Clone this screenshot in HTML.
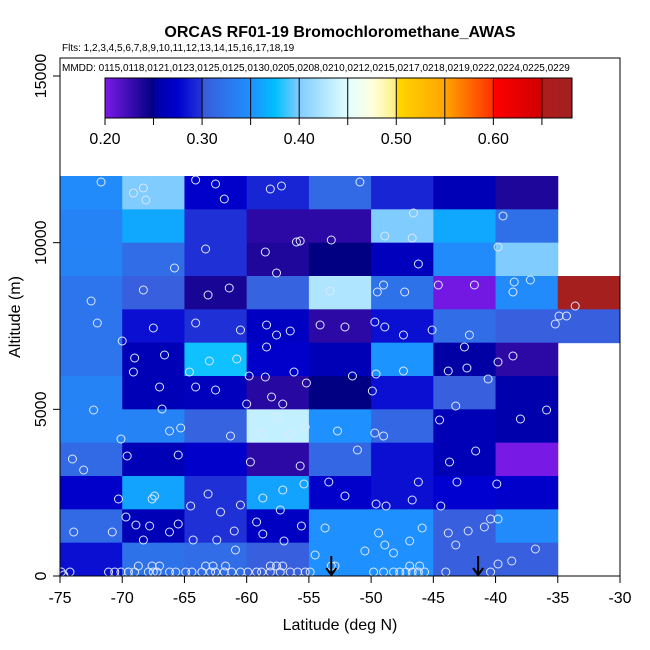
<!DOCTYPE html>
<html><head><meta charset="utf-8"><style>
html,body{margin:0;padding:0;background:#fff;}
svg{display:block;font-family:"Liberation Sans",sans-serif;}
</style></head><body>
<svg id="chart" width="650" height="650" viewBox="0 0 650 650" xmlns="http://www.w3.org/2000/svg">
<text x="340" y="37" font-size="16" font-weight="bold" text-anchor="middle">ORCAS RF01-19 Bromochloromethane_AWAS</text>
<text x="62" y="51" font-size="10">Flts: 1,2,3,4,5,6,7,8,9,10,11,12,13,14,15,16,17,18,19</text>
<g id="cells"></g>
<g id="pts"></g>
<g id="arrows"></g>
<g id="cbar"></g>
<text x="62" y="71" font-size="10">MMDD: 0115,0118,0121,0123,0125,0125,0130,0205,0208,0210,0212,0215,0217,0218,0219,0222,0224,0225,0229</text>
<rect x="60" y="58" width="560" height="518" fill="none" stroke="#000" stroke-width="1"/>
<g id="axes"></g>
<text x="340" y="630" font-size="16" text-anchor="middle">Latitude (deg N)</text>
<text transform="translate(20,317) rotate(-90)" font-size="16" text-anchor="middle">Altitude (m)</text>
</svg>
<script>
const latBins = [-75,-70,-65,-60,-55,-50,-45,-40,-35];
const altBins = [11000,10000,9000,8000,7000,6000,5000,4000,3000,2000,1000,0];
const cellValues = [
 [0.345,0.40,0.272,0.292,0.315,0.292,0.262,0.238,null],
 [0.338,0.362,0.297,0.232,0.232,0.40,0.362,0.320,null],
 [0.338,0.318,0.297,0.237,0.249,0.265,0.345,0.40,null],
 [0.325,0.305,0.24,0.308,0.425,0.322,0.203,0.345,0.675],
 [0.325,0.282,0.297,0.268,0.232,0.282,0.318,0.305,0.305],
 [0.325,0.262,0.378,0.272,0.262,0.352,0.252,0.232,null],
 [0.338,0.262,0.265,0.234,0.249,0.282,0.305,0.256,null],
 [0.338,0.338,0.308,0.435,0.35,0.312,0.262,0.256,null],
 [0.315,0.262,0.272,0.232,0.312,0.282,0.262,0.201,null],
 [0.272,0.36,0.297,0.36,0.272,0.282,0.275,0.272,null],
 [0.315,0.262,0.297,0.268,0.35,0.35,0.305,0.345,null],
 [0.282,0.322,0.318,0.305,0.35,0.35,0.305,0.305,null]
];
const pointLat = [-71.7,-68.3,-69.1,-68.1,-64.1,-62.5,-61.8,-58.1,-57.2,-50.9,-46.6,-48.9,-46.7,-58.5,-56.0,-55.7,-53.2,-63.3,-61.4,-65.8,-39.8,-37.2,-38.6,-39.4,-46.2,-44.6,-57.6,-72.5,-68.3,-63.1,-53.3,-49.5,-49.0,-47.3,-41.7,-38.5,-33.6,-34.9,-34.3,-35.2,-72.0,-67.5,-64.1,-60.5,-63.0,-66.6,-69.0,-70.0,-58.4,-57.6,-56.5,-54.1,-52.1,-49.7,-48.9,-47.4,-45.1,-42.1,-42.5,-42.3,-43.8,-38.6,-39.8,-69.1,-64.6,-60.8,-59.8,-58.4,-58.5,-56.2,-51.5,-49.6,-47.4,-49.9,-62.5,-60.0,-58.0,-57.1,-55.2,-72.3,-74.0,-67.0,-66.8,-64.1,-66.2,-65.3,-57.5,-55.3,-56.5,-52.7,-49.7,-49.0,-44.5,-43.2,-40.6,-35.9,-38.0,-70.1,-69.6,-65.5,-61.3,-59.7,-58.8,-55.7,-51.1,-43.7,-41.6,-39.9,-73.1,-74.7,-70.3,-67.6,-67.4,-63.1,-64.5,-62.1,-60.5,-58.7,-57.1,-57.3,-55.4,-53.4,-52.1,-49.6,-48.8,-46.7,-46.2,-44.4,-43.1,-42.2,-40.4,-39.8,-73.9,-70.8,-68.9,-68.3,-67.8,-69.7,-66.2,-65.5,-64.3,-62.4,-61.0,-60.9,-59.2,-58.7,-57.0,-55.6,-53.7,-54.5,-50.5,-49.4,-48.9,-48.2,-46.9,-45.9,-43.8,-43.2,-40.9,-39.8,-38.7,-36.8,
-74.9,-74.2,-71.1,-70.6,-70.1,-69.5,-69.0,-67.9,-67.5,-67.2,-66.2,-65.7,-64.9,-64.4,-63.6,-62.9,-62.5,-61.8,-61.2,-60.5,-59.9,-59.2,-58.8,-58.1,-57.3,-56.5,-55.9,-55.3,-54.9,-49.8,-49.0,-48.2,-47.7,-47.2,-46.7,-46.2,-45.7,-44.0,-40.4,
-68.7,-67.6,-67.0,-63.3,-62.7,-61.7,-58.1,-57.6,-57.1,-53.2,-52.9,-46.9,-46.1];
const pointAlt = [11820,11640,11490,11280,11880,11760,11310,11610,11700,11820,10890,10200,10140,9720,10020,10050,10080,9810,8640,9240,9870,8880,8520,10800,9360,8730,9090,8250,8580,8430,8550,8520,8730,8520,8730,8820,8100,7800,7800,7560,7590,7440,7590,7380,6450,6630,6540,7050,7530,7230,7350,7530,7470,7620,7470,7230,7380,7230,6870,6240,6150,6600,6420,6120,6120,6510,6000,6870,5970,6120,6000,6060,6150,5550,5580,5160,5370,5160,5790,4980,3510,5670,5010,5670,4350,4440,4770,4470,4230,4350,4290,4200,4680,5100,5910,4980,4710,4110,3600,3630,4200,3420,4260,3300,3780,3420,3750,2760,3180,30,2310,2310,2400,2460,2100,1920,2130,2340,2580,1980,2760,2820,2400,2160,2100,2280,2820,2100,2820,1350,1710,1710,1320,1320,1530,1080,1500,1770,1320,1560,1080,1080,1350,780,1620,1260,1050,1500,1440,630,750,1290,930,690,1050,1440,1290,930,1470,360,450,810,
120,120,120,120,120,120,120,120,120,120,120,120,120,120,120,120,120,120,120,120,120,120,120,120,120,120,120,120,120,120,120,120,120,120,120,120,120,120,120,
300,300,300,300,300,300,300,300,300,300,300,300,300];
const arrowLat = [-53.2,-41.4];
const xTicks = [-75,-70,-65,-60,-55,-50,-45,-40,-35,-30];
const yTicks = [0,5000,10000,15000];
const cbarTicks = [0.20,0.25,0.30,0.35,0.40,0.45,0.50,0.55,0.60,0.65];
const cbarLabels = [0.20,0.30,0.40,0.50,0.60];

const NS='http://www.w3.org/2000/svg';
const X0=60,X1=620,Y0=576,Y1=58;
const xs = v => X0 + (v+75)/45*(X1-X0);
const ys = v => Y0 - v/15000*(Y0-76);
const stops=[[0.20,'#7a1ae8'],[0.2499,'#000080'],[0.25,'#0000a0'],[0.275,'#0000d0'],[0.30,'#2436d8'],[0.3001,'#3a5ada'],[0.35,'#1e90ff'],[0.375,'#00bfff'],[0.40,'#80ccff'],[0.45,'#e0ffff'],[0.475,'#ffffe0'],[0.4999,'#fff080'],[0.50,'#ffd700'],[0.55,'#ffa500'],[0.5999,'#ff3000'],[0.60,'#ff0000'],[0.6499,'#d00000'],[0.65,'#b01c1c'],[0.70,'#9a2222']];
function hex(h){return [1,3,5].map(i=>parseInt(h.substr(i,2),16));}
function cmap(v){
  if(v<=stops[0][0]) return stops[0][1];
  for(let i=1;i<stops.length;i++){
    if(v<=stops[i][0]){
      const a=stops[i-1],b=stops[i],t=(v-a[0])/(b[0]-a[0]);
      const ca=hex(a[1]),cb=hex(b[1]);
      return 'rgb('+ca.map((c,k)=>Math.round(c+(cb[k]-c)*t)).join(',')+')';
    }
  }
  return stops[stops.length-1][1];
}
function mk(tag,attrs,parent){const e=document.createElementNS(NS,tag);for(const k in attrs)e.setAttribute(k,attrs[k]);parent.appendChild(e);return e;}

const gc=document.getElementById('cells');
cellValues.forEach((row,r)=>row.forEach((v,c)=>{
  if(v===null) return;
  const x0=xs(latBins[c]),x1=xs(latBins[c]+5),y0=ys(altBins[r]+1000),y1=ys(altBins[r]);
  const e=mk('rect',{x:x0,y:y0,width:x1-x0+0.5,height:y1-y0+0.5,fill:cmap(v)},gc);
  
  
}));

const gp=document.getElementById('pts');
pointLat.forEach((la,i)=>{
  const e=mk('circle',{cx:xs(la),cy:ys(pointAlt[i]),r:4,fill:'none',stroke:'#dde8ff','stroke-width':1},gp);
  
  
});

const ga=document.getElementById('arrows');
arrowLat.forEach(la=>{
  const x=xs(la);
  const e=mk('path',{d:`M${x},556 L${x},575 M${x-5},568 L${x},575 L${x+5},568`,stroke:'#000','stroke-width':2,fill:'none'},ga);
  
  
});

const gb=document.getElementById('cbar');
const CB0=105,CB1=572,CV0=0.20,CV1=0.681,CBT=78,CBB=118;
const cbx=v=>CB0+(v-CV0)/(CV1-CV0)*(CB1-CB0);
for(let px=CB0;px<CB1;px+=1){
  const v=CV0+(px+0.5-CB0)/(CB1-CB0)*(CV1-CV0);
  mk('rect',{x:px,y:CBT,width:1.2,height:CBB-CBT,fill:cmap(v)},gb);
}
mk('rect',{x:CB0,y:CBT,width:CB1-CB0,height:CBB-CBT,fill:'none',stroke:'#000','stroke-width':1},gb);
cbarTicks.forEach(v=>{
  const x=cbx(v);
  mk('line',{x1:x,y1:CBT,x2:x,y2:CBB+7,stroke:'#000','stroke-width':1},gb);
});
cbarLabels.forEach(v=>{
  const t=mk('text',{x:cbx(v),y:144,'font-size':16,'text-anchor':'middle'},gb);
  t.textContent=v.toFixed(2);
  
  
});

const gx=document.getElementById('axes');
xTicks.forEach(v=>{
  const x=xs(v);
  mk('line',{x1:x,y1:Y0,x2:x,y2:Y0+7,stroke:'#000'},gx);
  const t=mk('text',{x:x,y:603,'font-size':16,'text-anchor':'middle'},gx);
  t.textContent=v;
  
  
});
yTicks.forEach(v=>{
  const y=ys(v);
  mk('line',{x1:X0-7,y1:y,x2:X0,y2:y,stroke:'#000'},gx);
  const t=mk('text',{transform:`translate(46,${y}) rotate(-90)`,'font-size':16,'text-anchor':'middle'},gx);
  t.textContent=v;
  
  
});
</script>
</body></html>
